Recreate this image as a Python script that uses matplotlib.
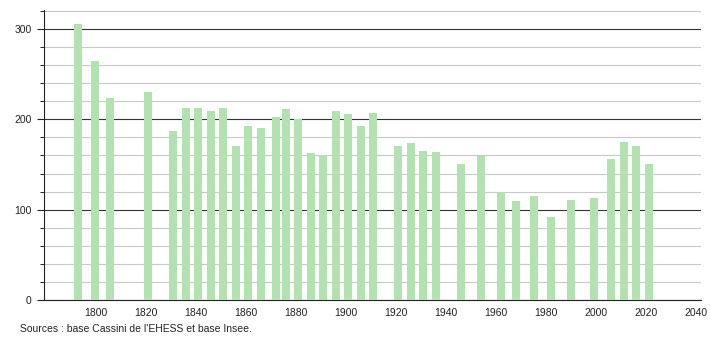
import matplotlib
matplotlib.use("Agg")
import matplotlib.pyplot as plt
from matplotlib.ticker import MultipleLocator

years = [1793, 1800, 1806, 1821, 1831, 1836, 1841, 1846, 1851, 1856,
         1861, 1866, 1872, 1876, 1881, 1886, 1891, 1896, 1901, 1906,
         1911, 1921, 1926, 1931, 1936, 1946, 1954, 1962, 1968, 1975,
         1982, 1990, 1999, 2006, 2011, 2016, 2021]
population = [306, 265, 224, 230, 187, 213, 213, 209, 213, 170,
              193, 190, 203, 211, 200, 163, 160, 209, 206, 193,
              207, 170, 174, 165, 164, 150, 159, 120, 110, 115,
              92, 111, 113, 156, 175, 170, 150]
x_ticks = [1800, 1820, 1840, 1860, 1880, 1900, 1920, 1940, 1960, 1980, 2000, 2020, 2040]
y_ticks = [0, 100, 200, 300]
source_text = "Sources : base Cassini de l'EHESS et base Insee."

plt.rcParams['font.family'] = ['Liberation Sans', 'DejaVu Sans']

fig = plt.figure(figsize=(7.1, 3.4), dpi=100)
ax = fig.add_axes([44/710, 1-300/340, (700.7-44)/710, (300-10)/340])

ax.bar(years, population, width=3.2, color='#b2e2b0', zorder=3)

ax.set_xlim(1779.5, 2041.7)
ax.set_ylim(0, 321)

ax.set_yticks(y_ticks)
ax.yaxis.set_minor_locator(MultipleLocator(20))
ax.set_xticks(x_ticks)
ax.set_xticklabels([str(t) for t in x_ticks])

ax.grid(axis='y', which='minor', color='#c8c8c8', linewidth=0.8, zorder=0)
ax.grid(axis='y', which='major', color='#333333', linewidth=0.8, zorder=1)

ax.tick_params(axis='x', which='both', length=0, labelsize=7.5, pad=6, colors='#222222')
ax.tick_params(axis='y', which='major', length=5, width=0.8, labelsize=7.5, pad=4, colors='#222222')
ax.tick_params(axis='y', which='minor', length=3, width=0.6)

for s in ['top', 'right']:
    ax.spines[s].set_visible(False)
ax.spines['left'].set_color('#222222')
ax.spines['bottom'].set_color('#222222')
ax.spines['left'].set_linewidth(0.8)
ax.spines['bottom'].set_linewidth(0.8)

fig.text(20/710, 1-329/340, source_text, fontsize=7.5, color='#222222', va='center', ha='left')

fig.savefig("out.png", dpi=100)
